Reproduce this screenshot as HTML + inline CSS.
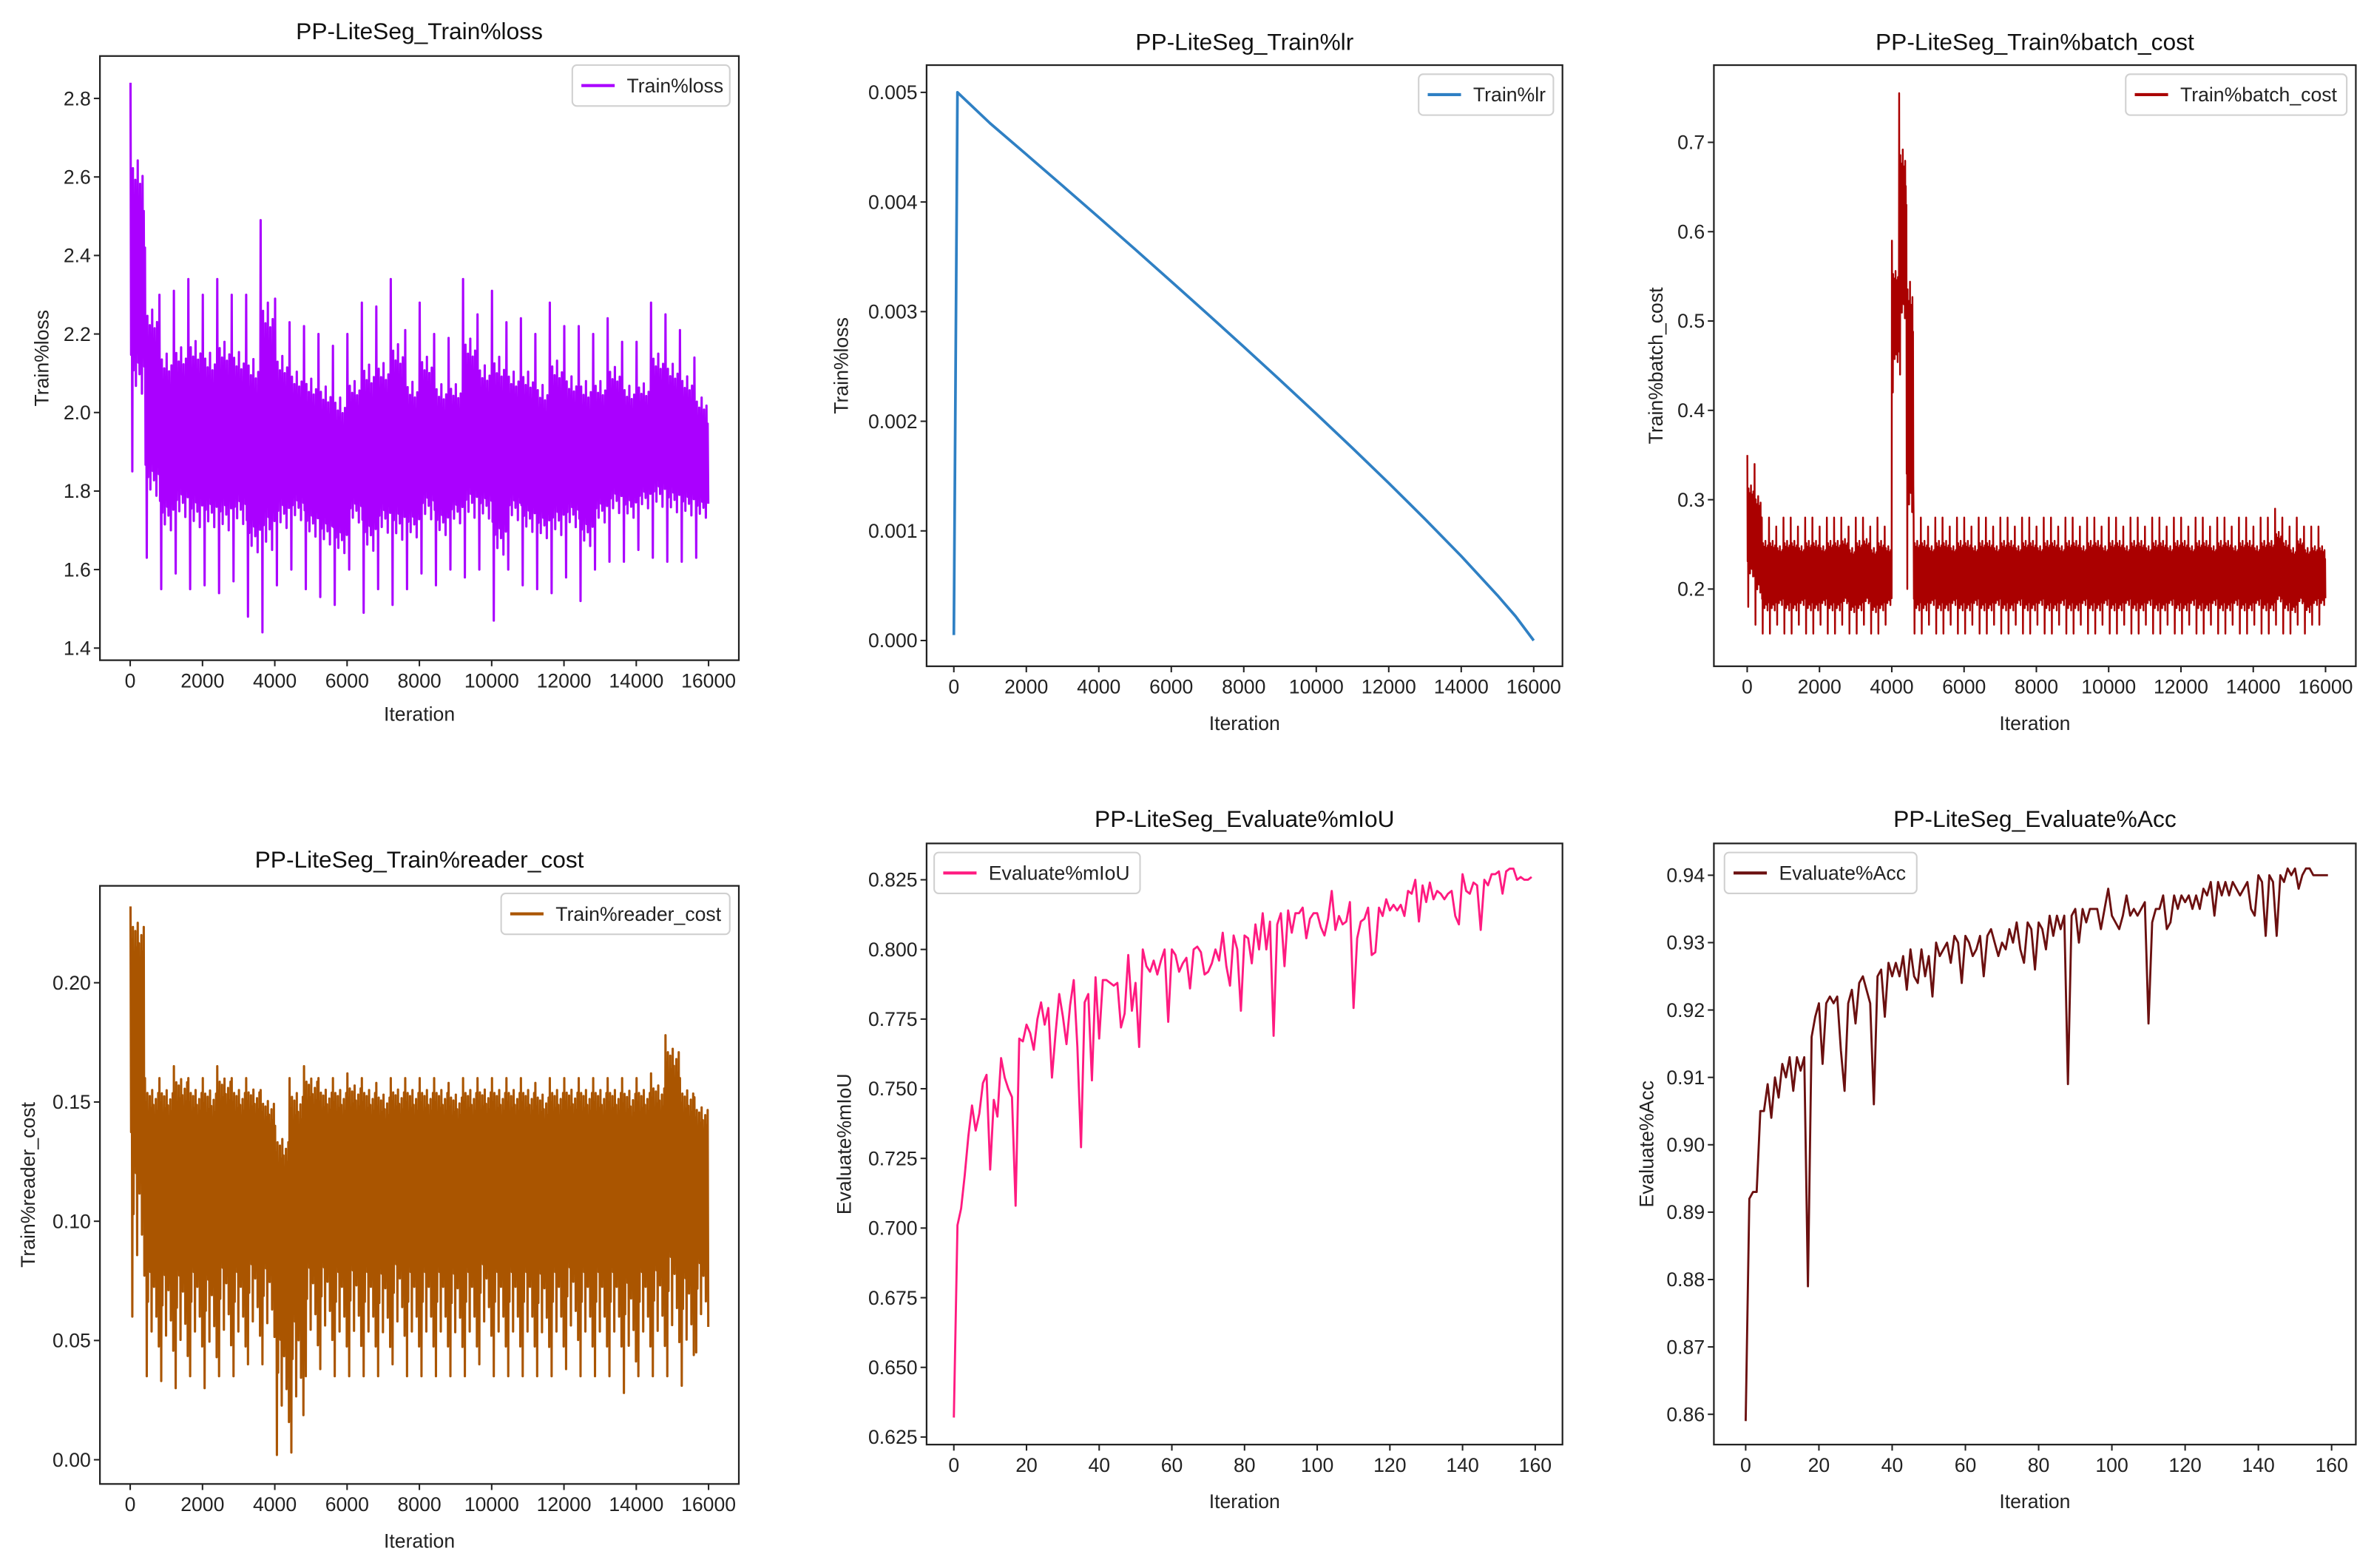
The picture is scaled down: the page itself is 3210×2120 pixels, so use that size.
<!DOCTYPE html>
<html><head><meta charset="utf-8"><style>
html,body{margin:0;padding:0;background:#fff;}
svg{display:block;font-family:"Liberation Sans",sans-serif;}
</style></head><body>
<svg id="fig" xmlns="http://www.w3.org/2000/svg" width="3210" height="2120" viewBox="0 0 1568 1035.5" preserveAspectRatio="none"></svg>
<script>
// ---------- DATA ----------
const lossBinWidth = 400;
const lossHi = [2.84,2.42,2.30,2.31,2.34,2.30,2.34,2.30,2.30,2.49,2.29,2.23,2.22,2.20,2.17,2.20,2.28,2.27,2.34,2.21,2.28,2.20,2.19,2.34,2.25,2.31,2.23,2.24,2.20,2.28,2.22,2.22,2.20,2.24,2.18,2.18,2.28,2.25,2.21,2.14];
const lossLo = [1.85,1.63,1.55,1.59,1.55,1.56,1.54,1.57,1.48,1.44,1.56,1.60,1.55,1.53,1.51,1.60,1.49,1.55,1.51,1.55,1.59,1.56,1.60,1.58,1.60,1.47,1.60,1.56,1.55,1.54,1.58,1.52,1.60,1.62,1.62,1.65,1.63,1.62,1.62,1.63];

const lrIters = [0,100,1000,2000,3000,4000,5000,6000,7000,8000,9000,10000,11000,12000,13000,14000,15000,15500,16000];
const lrValues = [0.00005,0.005,0.004718,0.004434,0.004148,0.003860,0.003569,0.003275,0.002979,0.002679,0.002376,0.002068,0.001755,0.001436,0.001108,0.000770,0.000412,0.000221,0.0];

const batchBinWidth = 200;
const batchHi = [0.35,0.34,0.28,0.28,0.27,0.28,0.28,0.27,0.28,0.28,0.27,0.28,0.28,0.28,0.27,0.28,0.28,0.27,0.28,0.27,
 0.59,0.755,0.63,0.28,0.28,0.27,0.28,0.28,0.27,0.28,0.28,0.27,0.28,0.28,0.27,0.28,0.28,0.27,0.28,0.28,
 0.27,0.28,0.28,0.27,0.28,0.28,0.27,0.28,0.28,0.27,0.28,0.28,0.27,0.28,0.28,0.27,0.28,0.28,0.27,0.28,
 0.28,0.27,0.28,0.28,0.27,0.28,0.28,0.27,0.28,0.28,0.27,0.28,0.28,0.29,0.28,0.27,0.28,0.27,0.27,0.27];
const batchLo = [0.18,0.16,0.15,0.15,0.16,0.15,0.15,0.16,0.15,0.15,0.16,0.15,0.15,0.16,0.15,0.15,0.16,0.15,0.15,0.16,
 0.42,0.44,0.20,0.15,0.15,0.16,0.15,0.15,0.16,0.15,0.15,0.16,0.15,0.15,0.16,0.15,0.15,0.16,0.15,0.15,
 0.16,0.15,0.15,0.16,0.15,0.15,0.16,0.15,0.15,0.16,0.15,0.15,0.16,0.15,0.15,0.16,0.15,0.15,0.16,0.15,
 0.15,0.16,0.15,0.15,0.16,0.15,0.15,0.16,0.15,0.15,0.16,0.15,0.15,0.16,0.15,0.15,0.16,0.15,0.16,0.16];

const readerBinWidth = 400;
const readerHi = [0.232,0.16,0.16,0.165,0.16,0.16,0.165,0.16,0.16,0.155,0.14,0.16,0.165,0.16,0.16,0.162,0.16,0.158,0.16,0.16,0.16,0.16,0.158,0.16,0.16,0.16,0.16,0.16,0.158,0.16,0.16,0.16,0.16,0.16,0.16,0.16,0.162,0.178,0.16,0.152];
const readerLo = [0.06,0.035,0.033,0.03,0.035,0.03,0.035,0.035,0.04,0.04,0.002,0.003,0.035,0.038,0.035,0.035,0.035,0.035,0.04,0.035,0.035,0.035,0.035,0.035,0.04,0.035,0.035,0.035,0.035,0.035,0.038,0.035,0.035,0.035,0.028,0.035,0.035,0.035,0.031,0.045];

const miou = [.632,.701,.707,.719,.733,.744,.735,.741,.752,.755,.721,.746,.740,.761,.754,.750,.747,.708,.768,.767,
.773,.770,.764,.775,.781,.773,.779,.754,.770,.784,.776,.766,.780,.789,.765,.729,.781,.784,.753,.790,
.768,.789,.789,.788,.787,.788,.772,.777,.798,.778,.788,.765,.800,.794,.792,.796,.791,.796,.800,.774,
.800,.798,.792,.795,.797,.786,.800,.801,.799,.791,.792,.795,.800,.796,.806,.794,.787,.805,.800,.778,
.805,.804,.795,.809,.800,.813,.800,.810,.769,.809,.813,.794,.814,.806,.813,.813,.815,.804,.811,.813,
.813,.808,.805,.811,.821,.807,.812,.809,.810,.817,.779,.804,.810,.811,.815,.798,.799,.815,.812,.818,
.814,.816,.814,.816,.812,.821,.820,.825,.810,.823,.817,.824,.818,.821,.820,.818,.820,.821,.812,.809,
.827,.821,.820,.824,.823,.807,.825,.823,.827,.827,.828,.820,.828,.829,.829,.825,.826,.825,.825,.826];

const acc = [.859,.892,.893,.893,.905,.905,.909,.904,.910,.907,.912,.910,.913,.908,.913,.911,.913,.879,.916,.919,
.921,.912,.921,.922,.921,.922,.914,.908,.921,.923,.918,.924,.925,.923,.921,.906,.925,.926,.919,.927,
.925,.927,.925,.928,.923,.929,.925,.924,.929,.925,.928,.922,.930,.928,.929,.930,.927,.931,.930,.924,
.931,.930,.928,.929,.931,.925,.931,.932,.930,.928,.930,.929,.932,.930,.933,.929,.927,.933,.932,.926,
.933,.932,.929,.934,.931,.934,.932,.934,.909,.934,.935,.930,.935,.933,.935,.935,.935,.932,.935,.938,
.934,.933,.932,.934,.937,.934,.935,.934,.935,.936,.918,.933,.935,.935,.937,.932,.933,.937,.935,.937,
.936,.937,.935,.937,.935,.938,.937,.939,.934,.939,.937,.939,.937,.939,.938,.937,.938,.939,.935,.934,
.940,.939,.931,.940,.939,.931,.940,.939,.941,.940,.941,.938,.940,.941,.941,.940,.940,.940,.940,.940];

const iterTicks = [0,2000,4000,6000,8000,10000,12000,14000,16000];
const evalTicks = [0,20,40,60,80,100,120,140,160];
const lossTicks = [1.4,1.6,1.8,2.0,2.2,2.4,2.6,2.8];
const lrTicks = [0,0.001,0.002,0.003,0.004,0.005];
const batchTicks = [0.2,0.3,0.4,0.5,0.6,0.7];
const readerTicks = [0,0.05,0.10,0.15,0.20];
const miouTicks = [0.625,0.65,0.675,0.7,0.725,0.75,0.775,0.8,0.825];
const accTicks = [0.86,0.87,0.88,0.89,0.90,0.91,0.92,0.93,0.94];

// ---------- DRAWING ----------
const NS = "http://www.w3.org/2000/svg";
const svg = document.getElementById('fig');
function mk(tag, a, parent){const e=document.createElementNS(NS,tag);for(const k in a)e.setAttribute(k,a[k]);(parent||svg).appendChild(e);return e;}
function lin(d0,d1,r0,r1){return v=>r0+(v-d0)*(r1-r0)/(d1-d0);}

const panels = [
 {id:'loss',title:'PP-LiteSeg_Train%loss',ylabel:'Train%loss',legend:'Train%loss',color:'#aa00ff',
  L:66,R:488,T:37,B:436,x0:86,x1:468,xd1:16000,yv0:2.8,yp0:65,yv1:1.4,yp1:428,ticks:lossTicks,dec:1,xt:iterTicks,
  titleY:26,xlY:476,ylX:32,leg:[378,43,104,27]},
 {id:'lr',title:'PP-LiteSeg_Train%lr',ylabel:'Train%loss',legend:'Train%lr',color:'#2f80c4',
  L:612,R:1032,T:43,B:440,x0:630,x1:1013,xd1:16000,yv0:0.005,yp0:61,yv1:0,yp1:423,ticks:lrTicks,dec:3,xt:iterTicks,
  titleY:33,xlY:482,ylX:560,leg:[937,49,89,27]},
 {id:'batch-cost',title:'PP-LiteSeg_Train%batch_cost',ylabel:'Train%batch_cost',legend:'Train%batch_cost',color:'#aa0000',
  L:1132,R:1556,T:43,B:440,x0:1154,x1:1536,xd1:16000,yv0:0.7,yp0:94,yv1:0.2,yp1:389,ticks:batchTicks,dec:1,xt:iterTicks,
  titleY:33,xlY:482,ylX:1098,leg:[1404,49,146,27]},
 {id:'reader-cost',title:'PP-LiteSeg_Train%reader_cost',ylabel:'Train%reader_cost',legend:'Train%reader_cost',color:'#aa5500',
  L:66,R:488,T:585,B:980,x0:86,x1:468,xd1:16000,yv0:0.2,yp0:649,yv1:0,yp1:964,ticks:readerTicks,dec:2,xt:iterTicks,
  titleY:573,xlY:1022,ylX:23,leg:[331,590,151,27]},
 {id:'miou',title:'PP-LiteSeg_Evaluate%mIoU',ylabel:'Evaluate%mIoU',legend:'Evaluate%mIoU',color:'#ff1a80',
  L:612,R:1032,T:557,B:954,x0:630,x1:1014,xd1:160,yv0:0.825,yp0:581,yv1:0.625,yp1:949,ticks:miouTicks,dec:3,xt:evalTicks,
  titleY:546,xlY:996,ylX:562,leg:[617,563,136,27]},
 {id:'acc',title:'PP-LiteSeg_Evaluate%Acc',ylabel:'Evaluate%Acc',legend:'Evaluate%Acc',color:'#6b1010',
  L:1132,R:1556,T:557,B:954,x0:1153,x1:1540,xd1:160,yv0:0.94,yp0:578,yv1:0.86,yp1:934,ticks:accTicks,dec:2,xt:evalTicks,
  titleY:546,xlY:996,ylX:1092,leg:[1139,563,127,27]}
];

// rendering patterns (fraction of bin range pulled in from the extreme)
const genUp   = [0,0.28,0.22,0.34,0.25,0.3,0.2,0.36,0.26,0.31,0.24,0.33];
const genDown = [0.3,0.0,0.26,0.33,0.22,0.35,0.28,0.25,0.32,0.2,0.3,0.27];
const rdUp    = [0,0.08,0.05,0.12,0.06,0.1,0.04,0.09,0.13,0.07,0.11,0.05];
const rdDown  = [0.45,0.0,0.25,0.55,0.35,0.15,0.5,0.3,0.6,0.2,0.4,0.1];

function noisePath(xs, ys, hi, lo, bw, up, dn){
  let d='';
  const n=up.length;
  for(let b=0;b<hi.length;b++){
    const r=hi[b]-lo[b];
    for(let k=0;k<n;k++){
      const itU=b*bw+bw*(2*k+0.5)/(2*n), itD=b*bw+bw*(2*k+1.5)/(2*n);
      const vU=hi[b]-r*up[k], vD=lo[b]+r*dn[k];
      d+=(d?'L':'M')+xs(itU).toFixed(2)+','+ys(vU).toFixed(2);
      d+='L'+xs(itD).toFixed(2)+','+ys(vD).toFixed(2);
    }
  }
  return d;
}
function linePath(xs, ys, xv, yv){
  let d='';
  for(let i=0;i<yv.length;i++) d+=(i?'L':'M')+xs(xv[i]).toFixed(2)+','+ys(yv[i]).toFixed(2);
  return d;
}

panels.forEach(p=>{
  const g = mk('g',{});
  
  
  const xs = lin(0,p.xd1,p.x0,p.x1), ys = lin(p.yv0,p.yv1,p.yp0,p.yp1);

  let d, sw=1.4;
  if(p.id==='loss'){d=noisePath(xs,ys,lossHi,lossLo,lossBinWidth,genUp,genDown);sw=1.5;}
  else if(p.id==='batch-cost'){d=noisePath(xs,ys,batchHi,batchLo,batchBinWidth,genUp,genDown);sw=1.2;}
  else if(p.id==='reader-cost'){d=noisePath(xs,ys,readerHi,readerLo,readerBinWidth,rdUp,rdDown);sw=1.5;}
  else if(p.id==='lr'){d=linePath(xs,ys,lrIters,lrValues);sw=1.8;}
  else if(p.id==='miou') d=linePath(xs,ys,miou.map((v,i)=>i),miou);
  else d=linePath(xs,ys,acc.map((v,i)=>i),acc);
  const line = mk('path',{d:d,fill:'none',stroke:p.color,'stroke-width':sw,'stroke-linejoin':'round'},g);
  
  

  const box = mk('rect',{x:p.L,y:p.T,width:p.R-p.L,height:p.B-p.T,fill:'none',stroke:'#222','stroke-width':1.1},g);
  
  

  p.ticks.forEach(t=>{
    const y=ys(t);
    const tk = mk('line',{x1:p.L-4,x2:p.L,y1:y,y2:y,stroke:'#222','stroke-width':1},g);
    
    
    const tl = mk('text',{x:p.L-6,y:y+4.5,'text-anchor':'end','font-size':13,fill:'#222'},g);
    tl.textContent = t.toFixed(p.dec);
    
    
  });
  p.xt.forEach(t=>{
    const x=xs(t);
    const tk = mk('line',{x1:x,x2:x,y1:p.B,y2:p.B+4,stroke:'#222','stroke-width':1},g);
    
    
    const tl = mk('text',{x:x,y:p.B+18,'text-anchor':'middle','font-size':13,fill:'#222'},g);
    tl.textContent = String(t);
    
    
  });
  const ti = mk('text',{x:(p.L+p.R)/2,y:p.titleY,'text-anchor':'middle','font-size':15.5,fill:'#111'},g);
  ti.textContent = p.title;
  
  
  const xl = mk('text',{x:(p.L+p.R)/2,y:p.xlY,'text-anchor':'middle','font-size':13,fill:'#222'},g);
  xl.textContent = 'Iteration';
  
  
  const cy=(p.T+p.B)/2;
  const yl = mk('text',{x:p.ylX,y:cy,'text-anchor':'middle','font-size':13,fill:'#222',transform:'rotate(-90 '+p.ylX+' '+cy+')'},g);
  yl.textContent = p.ylabel;
  
  
  const [lx,ly,lw,lh]=p.leg;
  const lg = mk('rect',{x:lx,y:ly,width:lw,height:lh,rx:3,fill:'#fff',stroke:'#d0d0d0','stroke-width':1},g);
  
  
  const ll = mk('line',{x1:lx+6,x2:lx+28,y1:ly+lh/2,y2:ly+lh/2,stroke:p.color,'stroke-width':2},g);
  
  
  const lt = mk('text',{x:lx+36,y:ly+lh/2+4.5,'font-size':13,fill:'#222'},g);
  lt.textContent = p.legend;
  
  
});
</script>
</body></html>
